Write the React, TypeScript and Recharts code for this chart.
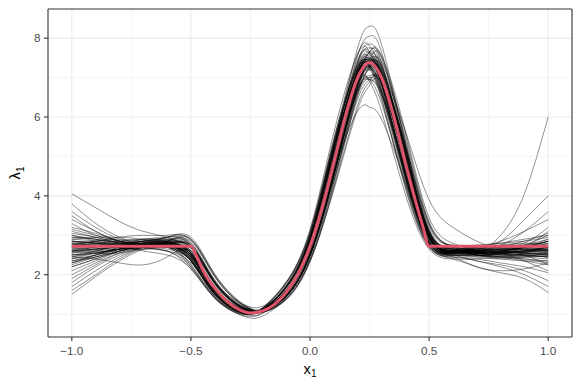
import { LineChart, Line, XAxis, YAxis, CartesianGrid, ReferenceLine, Label } from 'recharts';

const xGrid = [-1, -0.9, -0.8, -0.7, -0.6, -0.5, -0.4, -0.3, -0.25, -0.2, -0.1, 0, 0.1, 0.2, 0.25, 0.3, 0.4, 0.5, 0.6, 0.7, 0.8, 0.9, 1];

// one row per draw, values at xGrid
const sampleCurves = [
  [2.72, 2.80, 2.85, 2.90, 2.85, 2.50, 1.62, 1.15, 1.05, 1.10, 1.58, 2.72, 4.95, 7.15, 7.50, 7.05, 4.85, 2.90, 2.55, 2.60, 2.70, 2.75, 2.80],
  [2.40, 2.55, 2.65, 2.75, 2.80, 2.75, 1.82, 1.22, 1.09, 1.06, 1.45, 2.48, 4.50, 6.75, 7.30, 7.15, 5.20, 3.10, 2.65, 2.55, 2.50, 2.45, 2.40],
  [3.10, 2.95, 2.80, 2.70, 2.70, 2.35, 1.52, 1.08, 1.02, 1.12, 1.70, 2.95, 5.25, 7.40, 7.60, 6.90, 4.55, 2.80, 2.50, 2.45, 2.55, 2.70, 2.90],
  [2.00, 2.30, 2.55, 2.70, 2.85, 2.85, 1.95, 1.30, 1.12, 1.05, 1.38, 2.35, 4.20, 6.30, 6.90, 6.95, 5.30, 3.25, 2.75, 2.65, 2.55, 2.35, 2.10],
  [3.50, 3.10, 2.85, 2.75, 2.75, 2.45, 1.58, 1.12, 1.03, 1.08, 1.56, 2.75, 5.05, 7.40, 7.85, 7.40, 5.05, 3.00, 2.60, 2.55, 2.60, 2.75, 3.00],
  [2.60, 2.65, 2.70, 2.80, 2.80, 2.35, 1.50, 1.07, 1.01, 1.10, 1.68, 2.92, 5.20, 7.15, 7.30, 6.70, 4.50, 2.80, 2.55, 2.65, 2.75, 2.80, 2.75],
  [1.80, 2.20, 2.50, 2.70, 2.70, 2.20, 1.42, 1.03, 1.00, 1.15, 1.80, 3.10, 5.45, 7.30, 7.30, 6.50, 4.25, 2.70, 2.45, 2.40, 2.30, 2.20, 2.05],
  [2.90, 2.85, 2.75, 2.70, 2.75, 2.75, 1.80, 1.22, 1.08, 1.05, 1.45, 2.50, 4.55, 6.80, 7.35, 7.20, 5.20, 3.10, 2.65, 2.70, 2.85, 3.10, 3.40],
  [2.30, 2.50, 2.70, 2.85, 2.90, 2.60, 1.68, 1.18, 1.08, 1.12, 1.58, 2.70, 4.75, 6.70, 6.95, 6.55, 4.60, 2.85, 2.60, 2.65, 2.70, 2.70, 2.65],
  [4.05, 3.70, 3.35, 3.10, 2.95, 2.55, 1.62, 1.14, 1.04, 1.08, 1.55, 2.70, 4.90, 7.05, 7.40, 7.00, 4.85, 2.95, 2.60, 2.55, 2.50, 2.55, 2.70],
  [1.50, 1.95, 2.35, 2.65, 2.85, 2.90, 1.98, 1.32, 1.13, 1.05, 1.36, 2.32, 4.25, 6.55, 7.30, 7.40, 5.55, 3.35, 2.70, 2.50, 2.55, 2.65, 2.80],
  [2.80, 2.75, 2.70, 2.65, 2.60, 2.15, 1.40, 1.02, 0.99, 1.14, 1.78, 3.05, 5.30, 6.95, 6.90, 6.15, 4.05, 2.65, 2.40, 2.40, 2.45, 2.40, 2.30],
  [3.30, 3.00, 2.85, 2.75, 2.75, 2.40, 1.55, 1.10, 1.03, 1.12, 1.72, 3.00, 5.40, 7.60, 7.80, 7.10, 4.70, 2.85, 2.60, 2.65, 2.65, 2.60, 2.50],
  [2.50, 2.60, 2.75, 2.90, 2.95, 2.80, 1.85, 1.25, 1.12, 1.10, 1.48, 2.50, 4.40, 6.45, 6.95, 6.85, 4.95, 3.00, 2.60, 2.60, 2.70, 2.85, 3.05],
  [2.20, 2.40, 2.60, 2.70, 2.70, 2.45, 1.60, 1.12, 1.03, 1.09, 1.60, 2.78, 5.00, 7.20, 7.55, 7.15, 4.95, 2.95, 2.50, 2.35, 2.25, 2.10, 1.85],
  [2.65, 2.70, 2.75, 2.80, 2.80, 2.70, 1.78, 1.20, 1.07, 1.05, 1.45, 2.52, 4.65, 7.00, 7.65, 7.50, 5.35, 3.15, 2.65, 2.60, 2.65, 2.75, 2.90],
  [3.00, 2.90, 2.75, 2.60, 2.50, 2.15, 1.40, 1.00, 0.94, 1.02, 1.58, 2.85, 5.15, 7.10, 7.25, 6.65, 4.45, 2.75, 2.55, 2.70, 2.80, 2.90, 3.00],
  [2.10, 2.35, 2.60, 2.80, 2.85, 2.55, 1.65, 1.16, 1.06, 1.10, 1.55, 2.66, 4.80, 6.95, 7.30, 6.95, 4.90, 2.95, 2.55, 2.45, 2.40, 2.45, 2.55],
  [2.75, 2.85, 2.95, 3.00, 3.00, 2.90, 2.00, 1.32, 1.14, 1.06, 1.38, 2.38, 4.35, 6.70, 7.45, 7.55, 5.65, 3.45, 2.80, 2.60, 2.55, 2.60, 2.70],
  [3.20, 3.05, 2.85, 2.70, 2.60, 2.20, 1.42, 1.04, 1.00, 1.16, 1.82, 3.15, 5.60, 7.60, 7.65, 6.85, 4.45, 2.75, 2.50, 2.60, 2.75, 3.10, 3.60],
  [2.45, 2.55, 2.65, 2.75, 2.80, 2.55, 1.66, 1.16, 1.06, 1.10, 1.58, 2.74, 4.95, 7.20, 7.60, 7.25, 5.05, 3.05, 2.70, 2.60, 2.55, 2.50, 2.45],
  [1.90, 2.25, 2.55, 2.75, 2.75, 2.35, 1.50, 1.07, 1.02, 1.12, 1.70, 2.95, 5.20, 7.10, 7.20, 6.60, 4.45, 2.80, 2.55, 2.55, 2.60, 2.50, 2.25],
  [2.85, 2.80, 2.70, 2.70, 2.80, 2.70, 1.80, 1.22, 1.08, 1.06, 1.46, 2.50, 4.55, 6.85, 7.40, 7.25, 5.25, 3.10, 2.65, 2.55, 2.45, 2.35, 2.25],
  [3.60, 3.20, 2.90, 2.75, 2.75, 2.50, 1.62, 1.14, 1.04, 1.09, 1.56, 2.66, 4.70, 6.70, 7.00, 6.65, 4.65, 2.90, 2.60, 2.65, 2.70, 2.80, 3.20],
  [2.55, 2.60, 2.65, 2.75, 2.85, 2.80, 1.86, 1.25, 1.10, 1.06, 1.44, 2.45, 4.50, 6.95, 7.65, 7.55, 5.40, 3.20, 2.75, 2.65, 2.60, 2.55, 2.55],
  [2.35, 2.45, 2.60, 2.75, 2.80, 2.35, 1.52, 1.09, 1.03, 1.12, 1.68, 2.88, 5.05, 6.85, 6.95, 6.35, 4.30, 2.75, 2.60, 2.70, 2.75, 2.75, 2.70],
  [2.95, 2.90, 2.80, 2.75, 2.75, 2.45, 1.56, 1.10, 1.02, 1.06, 1.52, 2.66, 4.85, 7.00, 7.35, 6.95, 4.85, 2.95, 2.55, 2.50, 2.50, 2.55, 2.65],
  [1.70, 2.10, 2.45, 2.70, 2.75, 2.25, 1.45, 1.05, 1.01, 1.15, 1.80, 3.08, 5.40, 7.25, 7.25, 6.45, 4.20, 2.70, 2.45, 2.35, 2.20, 2.00, 1.70],
  [2.70, 2.75, 2.80, 2.85, 2.85, 2.55, 1.64, 1.14, 1.04, 1.08, 1.55, 2.70, 4.90, 7.10, 7.45, 7.05, 4.90, 2.95, 2.60, 2.65, 2.85, 3.40, 4.00],
  [2.60, 2.55, 2.55, 2.65, 2.75, 2.72, 1.80, 1.21, 1.08, 1.06, 1.46, 2.50, 4.50, 6.70, 7.20, 7.05, 5.10, 3.05, 2.65, 2.60, 2.65, 2.70, 2.75],
  [3.40, 3.10, 2.85, 2.70, 2.60, 2.30, 1.48, 1.06, 1.00, 1.10, 1.70, 2.95, 5.30, 7.35, 7.50, 6.90, 4.60, 2.80, 2.55, 2.55, 2.55, 2.60, 2.60],
  [2.25, 2.45, 2.65, 2.80, 2.85, 2.55, 1.64, 1.15, 1.05, 1.09, 1.56, 2.72, 4.95, 7.25, 7.65, 7.30, 5.15, 3.10, 2.65, 2.50, 2.40, 2.35, 2.35],
  [2.80, 2.85, 2.85, 2.80, 2.75, 2.45, 1.58, 1.12, 1.04, 1.10, 1.62, 2.85, 5.20, 7.75, 8.30, 7.85, 5.30, 3.10, 2.60, 2.55, 2.60, 2.65, 2.70],
  [2.50, 2.55, 2.65, 2.75, 2.80, 2.55, 1.68, 1.18, 1.08, 1.12, 1.55, 2.62, 4.60, 6.15, 6.25, 5.95, 4.35, 2.85, 2.60, 2.60, 2.55, 2.50, 2.45],
  [2.70, 2.65, 2.65, 2.70, 2.75, 2.60, 1.68, 1.16, 1.05, 1.07, 1.48, 2.52, 4.55, 6.75, 7.25, 7.15, 5.65, 3.90, 3.20, 2.85, 2.65, 2.55, 2.50],
  [2.60, 2.65, 2.70, 2.75, 2.75, 2.45, 1.58, 1.12, 1.03, 1.08, 1.55, 2.70, 4.90, 7.10, 7.45, 7.05, 4.90, 2.95, 2.50, 2.55, 3.00, 4.05, 6.00],
  [2.80, 2.75, 2.70, 2.70, 2.65, 2.35, 1.52, 1.08, 1.02, 1.12, 1.68, 2.90, 5.15, 7.15, 7.30, 6.70, 4.50, 2.80, 2.40, 2.20, 2.05, 1.90, 1.55],
  [2.45, 2.40, 2.30, 2.25, 2.45, 2.60, 1.78, 1.22, 1.09, 1.07, 1.46, 2.50, 4.55, 6.80, 7.30, 7.10, 5.10, 3.00, 2.45, 2.20, 2.10, 2.15, 2.30],
  [2.90, 2.95, 2.95, 2.90, 2.80, 2.45, 1.56, 1.10, 1.02, 1.08, 1.60, 2.82, 5.15, 7.55, 8.05, 7.65, 5.20, 3.05, 2.65, 2.70, 2.70, 2.65, 2.60],
  [2.30, 2.50, 2.70, 2.85, 2.95, 2.95, 2.02, 1.35, 1.16, 1.08, 1.40, 2.35, 4.15, 6.20, 6.80, 6.90, 5.30, 3.30, 2.70, 2.55, 2.60, 2.70, 2.85],
  [1.60, 2.00, 2.40, 2.70, 2.95, 2.75, 1.85, 1.26, 1.12, 1.10, 1.50, 2.55, 4.55, 6.65, 7.05, 6.80, 4.90, 3.00, 2.70, 2.75, 2.80, 2.85, 2.95],
  [3.80, 3.30, 2.95, 2.75, 2.70, 2.35, 1.50, 1.07, 1.01, 1.12, 1.72, 2.98, 5.30, 7.30, 7.45, 6.85, 4.55, 2.80, 2.50, 2.50, 2.55, 2.70, 3.10],
  [2.65, 2.70, 2.75, 2.75, 2.70, 2.35, 1.45, 1.00, 0.90, 0.95, 1.42, 2.58, 4.80, 7.10, 7.50, 7.10, 4.95, 3.00, 2.60, 2.60, 2.60, 2.55, 2.50],
  [2.75, 2.80, 2.85, 2.90, 2.90, 2.65, 1.80, 1.30, 1.18, 1.20, 1.62, 2.72, 4.80, 6.85, 7.20, 6.85, 4.80, 2.95, 2.60, 2.50, 2.45, 2.55, 2.75],
  [2.55, 2.65, 2.75, 2.80, 2.80, 2.50, 1.62, 1.13, 1.04, 1.09, 1.56, 2.70, 4.88, 7.05, 7.40, 7.00, 4.88, 2.95, 2.58, 2.55, 2.55, 2.60, 2.65],
  [2.85, 2.80, 2.75, 2.75, 2.75, 2.40, 1.54, 1.09, 1.02, 1.10, 1.66, 2.88, 5.15, 7.20, 7.40, 6.85, 4.60, 2.82, 2.50, 2.48, 2.52, 2.60, 2.70],
  [2.40, 2.50, 2.65, 2.80, 2.85, 2.68, 1.76, 1.20, 1.07, 1.06, 1.47, 2.52, 4.60, 6.90, 7.45, 7.30, 5.20, 3.08, 2.62, 2.55, 2.50, 2.50, 2.55],
  [3.00, 2.85, 2.70, 2.65, 2.70, 2.48, 1.62, 1.15, 1.06, 1.10, 1.55, 2.64, 4.70, 6.65, 6.95, 6.60, 4.70, 2.92, 2.62, 2.62, 2.60, 2.55, 2.50],
  [2.30, 2.45, 2.60, 2.75, 2.80, 2.50, 1.60, 1.12, 1.03, 1.08, 1.58, 2.78, 5.05, 7.35, 7.75, 7.35, 5.10, 3.02, 2.60, 2.55, 2.60, 2.70, 2.85],
  [2.70, 2.75, 2.80, 2.80, 2.75, 2.38, 1.52, 1.08, 1.02, 1.11, 1.68, 2.90, 5.15, 7.15, 7.30, 6.75, 4.55, 2.80, 2.55, 2.60, 2.65, 2.65, 2.60],
  [2.95, 2.90, 2.80, 2.75, 2.85, 2.72, 1.80, 1.22, 1.08, 1.06, 1.46, 2.50, 4.55, 6.80, 7.30, 7.15, 5.15, 3.05, 2.60, 2.50, 2.45, 2.45, 2.50],
  [2.50, 2.55, 2.65, 2.75, 2.80, 2.52, 1.64, 1.14, 1.04, 1.08, 1.54, 2.68, 4.85, 7.00, 7.35, 6.95, 4.85, 2.95, 2.62, 2.68, 2.72, 2.70, 2.60],
  [2.75, 2.75, 2.75, 2.80, 2.80, 2.50, 1.62, 1.13, 1.03, 1.08, 1.55, 2.70, 4.90, 7.10, 7.45, 7.05, 4.90, 2.95, 2.55, 2.50, 2.45, 2.40, 2.35],
  [2.20, 2.40, 2.60, 2.75, 2.70, 2.25, 1.45, 1.05, 1.00, 1.13, 1.76, 3.02, 5.35, 7.25, 7.30, 6.60, 4.35, 2.72, 2.50, 2.50, 2.55, 2.60, 2.65],
  [2.85, 2.80, 2.80, 2.85, 2.95, 2.88, 1.95, 1.30, 1.13, 1.06, 1.40, 2.40, 4.35, 6.60, 7.25, 7.30, 5.45, 3.30, 2.72, 2.60, 2.55, 2.50, 2.45],
  [2.65, 2.60, 2.60, 2.70, 2.80, 2.55, 1.66, 1.15, 1.05, 1.09, 1.56, 2.70, 4.85, 7.00, 7.30, 6.90, 4.80, 2.92, 2.55, 2.55, 2.60, 2.70, 2.85],
  [2.45, 2.60, 2.75, 2.85, 2.85, 2.42, 1.55, 1.10, 1.03, 1.12, 1.70, 2.95, 5.30, 7.45, 7.65, 7.05, 4.70, 2.85, 2.55, 2.50, 2.45, 2.50, 2.60],
  [3.15, 3.00, 2.85, 2.75, 2.80, 2.70, 1.80, 1.23, 1.10, 1.08, 1.48, 2.50, 4.45, 6.55, 7.00, 6.90, 5.00, 3.00, 2.60, 2.60, 2.65, 2.65, 2.55],
  [2.60, 2.70, 2.80, 2.85, 2.80, 2.40, 1.52, 1.06, 0.97, 1.02, 1.50, 2.66, 4.85, 7.05, 7.40, 7.00, 4.90, 2.95, 2.58, 2.58, 2.62, 2.65, 2.65],
  [2.85, 2.80, 2.75, 2.70, 2.75, 2.60, 1.72, 1.22, 1.12, 1.15, 1.60, 2.70, 4.80, 6.90, 7.25, 6.90, 4.85, 2.95, 2.60, 2.55, 2.55, 2.60, 2.70],
  [2.35, 2.50, 2.65, 2.75, 2.80, 2.55, 1.64, 1.14, 1.04, 1.08, 1.56, 2.72, 4.92, 7.12, 7.48, 7.08, 4.92, 2.98, 2.62, 2.58, 2.52, 2.48, 2.45],
  [3.05, 2.95, 2.80, 2.70, 2.70, 2.36, 1.52, 1.08, 1.02, 1.11, 1.67, 2.90, 5.18, 7.22, 7.40, 6.82, 4.58, 2.82, 2.55, 2.55, 2.60, 2.70, 2.85],
  [2.60, 2.65, 2.70, 2.80, 2.90, 2.75, 1.82, 1.23, 1.09, 1.06, 1.45, 2.48, 4.52, 6.82, 7.38, 7.22, 5.22, 3.12, 2.68, 2.62, 2.58, 2.58, 2.62],
  [2.75, 2.85, 2.90, 2.85, 2.80, 2.50, 1.60, 1.12, 1.03, 1.08, 1.56, 2.72, 4.90, 7.08, 7.42, 7.02, 4.88, 2.95, 2.58, 2.62, 2.65, 2.62, 2.55],
];

// the true intensity (pink line)
const trueX = [-1, -0.5, -0.475, -0.45, -0.425, -0.4, -0.35, -0.3, -0.25, -0.2, -0.15, -0.1, -0.05, 0, 0.05, 0.1, 0.15, 0.2, 0.25, 0.3, 0.35, 0.4, 0.45, 0.475, 0.5, 1];
const trueY = [2.72, 2.72, 2.45, 2.12, 1.86, 1.66, 1.33, 1.12, 1.03, 1.08, 1.24, 1.55, 2.02, 2.72, 3.68, 4.85, 6.05, 7.0, 7.38, 7.0, 6.05, 4.85, 3.72, 3.2, 2.72, 2.72];

const xTicks = [-1, -0.5, 0, 0.5, 1];
const yTicks = [2, 4, 6, 8];
const xMinor = [-0.75, -0.25, 0.25, 0.75];
const yMinor = [1, 3, 5, 7];

const samples = sampleCurves.map((ys) => ys.map((y, i) => ({ x: xGrid[i], y })));
const truth = trueX.map((x, i) => ({ x, y: trueY[i] }));

const FONT = '"Liberation Sans", Arial, Helvetica, sans-serif';

const fmtX = (v: number) => (v < 0 ? '\u2212' : '') + Math.abs(v).toFixed(1);

export default function App() {
  return (
    <div style={{ position: 'absolute', left: 0, top: 0, background: '#fff' }}>
      <LineChart width={581} height={388} margin={{ top: 9, right: 9, bottom: 21, left: 8 }}>
        <CartesianGrid stroke="#ebebeb" strokeWidth={0.55} horizontalValues={yMinor} verticalValues={xMinor} />
        <CartesianGrid stroke="#ebebeb" strokeWidth={1.1} horizontalValues={yTicks} verticalValues={xTicks} />
        <XAxis
          type="number"
          dataKey="x"
          domain={[-1.1, 1.1]}
          allowDataOverflow
          ticks={xTicks}
          tickFormatter={fmtX}
          height={30}
          tickSize={4}
          tickMargin={6}
          axisLine={{ stroke: '#333333', strokeWidth: 1.1 }}
          tickLine={{ stroke: '#333333', strokeWidth: 1.1 }}
          tick={{ fill: '#4d4d4d', fontSize: 11.7, fontFamily: FONT }}
        >
          <Label
            content={() => (
              <text x={310} y={373.5} textAnchor="middle" fontSize={14.7} fontFamily={FONT} fill="#000">
                x<tspan dy={3.5} fontSize={10}>1</tspan>
              </text>
            )}
          />
        </XAxis>
        <YAxis
          type="number"
          domain={[0.42, 8.74]}
          allowDataOverflow
          ticks={yTicks}
          width={40}
          tickSize={4}
          tickMargin={3.5}
          axisLine={{ stroke: '#333333', strokeWidth: 1.1 }}
          tickLine={{ stroke: '#333333', strokeWidth: 1.1 }}
          tick={{ fill: '#4d4d4d', fontSize: 11.7, fontFamily: FONT }}
        >
          <Label
            content={() => (
              <text
                x={20}
                y={173}
                transform="rotate(-90, 20, 173)"
                textAnchor="middle"
                fontSize={14.7}
                fontFamily={FONT}
                fill="#000"
              >
                {'\u03bb'}<tspan dy={3.5} fontSize={10}>1</tspan>
              </text>
            )}
          />
        </YAxis>
        {samples.map((d, k) => (
          <Line
            key={k}
            data={d}
            dataKey="y"
            type="natural"
            stroke="#000"
            strokeOpacity={0.62}
            strokeWidth={0.7}
            dot={false}
            activeDot={false}
            isAnimationActive={false}
          />
        ))}
        <Line
          data={truth}
          dataKey="y"
          type="monotone"
          stroke="#DF536B"
          strokeWidth={3}
          dot={false}
          activeDot={false}
          isAnimationActive={false}
        />
        <ReferenceLine y={8.74} stroke="#333333" strokeWidth={1.1} />
        <ReferenceLine x={1.1} stroke="#333333" strokeWidth={1.1} />
      </LineChart>
    </div>
  );
}
